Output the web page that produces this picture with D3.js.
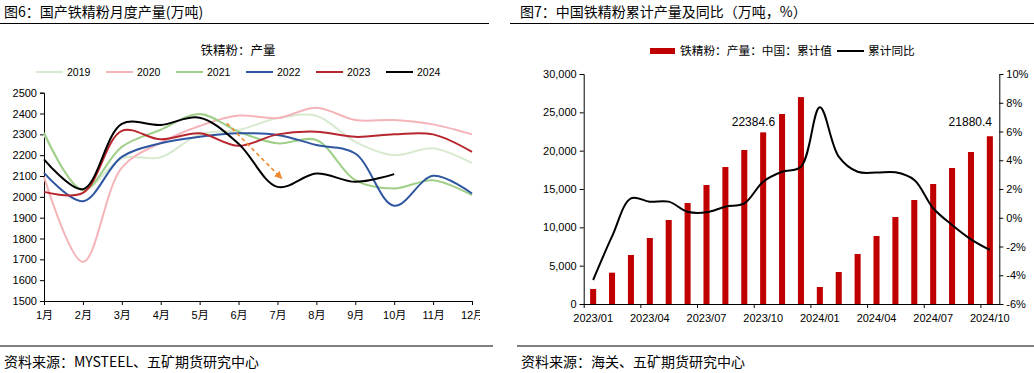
<!DOCTYPE html>
<html>
<head>
<meta charset="utf-8">
<script src="https://cdn.jsdelivr.net/npm/d3@7"></script>
<style>
  body { margin: 0; background: #fff; }
  text { font-family: "Liberation Sans", "Noto Sans CJK SC", sans-serif; fill: #000; }
  .cjk { font-family: "Noto Sans CJK SC", sans-serif; }
</style>
</head>
<body>
<div id="chart"></div>
<script>
// ---- left chart data (万吨) ----
const months = ["1月", "2月", "3月", "4月", "5月", "6月", "7月", "8月", "9月", "10月", "11月", "12月"];
const years = ["2019", "2020", "2021", "2022", "2023", "2024"];
const v2019 = [2300, 2035, 2185, 2190, 2300, 2321, 2377, 2389, 2264, 2200, 2233, 2162];
const v2020 = [2096, 1688, 2140, 2260, 2340, 2390, 2378, 2428, 2369, 2369, 2348, 2300];
const v2021 = [2308, 2032, 2240, 2322, 2398, 2313, 2257, 2273, 2080, 2040, 2080, 2008];
const v2022 = [2115, 1979, 2192, 2257, 2288, 2305, 2297, 2249, 2208, 1957, 2101, 2016];
const v2023 = [2024, 2019, 2317, 2276, 2305, 2245, 2300, 2313, 2288, 2300, 2300, 2216];
const v2024 = [2180, 2037, 2350, 2345, 2380, 2255, 2048, 2112, 2072, 2109];
const yearColors = ["#d7ead0", "#f4b4b9", "#9fcf88", "#2f56a0", "#b7262e", "#000000"];
const leftTicks = d3.range(1500, 2501, 100);
// trend arrow, in (month index, value)
const arrowFrom = [4.7, 2353];
const arrowTo = [6.11, 2088];

// ---- right chart data ----
const cats = ["2023/01", "2023/02", "2023/03", "2023/04", "2023/05", "2023/06", "2023/07", "2023/08",
  "2023/09", "2023/10", "2023/11", "2023/12", "2024/01", "2024/02", "2024/03", "2024/04",
  "2024/05", "2024/06", "2024/07", "2024/08", "2024/09", "2024/10"];
const cumValue = [1957, 4087, 6391, 8609, 10957, 13174, 15522, 17870, 20087, 22384.6, 24783, 26990,
  2217, 4174, 6522, 8870, 11348, 13565, 15652, 17739, 19826, 21880.4];
const cumYoy = [-4.33, -1.3, 1.35, 1.12, 1.12, 0.42, 0.38, 0.77, 1.0, 2.51, 3.2, 3.55,
  7.68, 4.25, 3.2, 3.14, 3.16, 2.63, 0.66, -0.5, -1.5, -2.24];
const labelIdx = [9, 21];
const barTicks = d3.range(0, 30001, 5000);
const pctTicks = d3.range(-6, 11, 2);

const svg = d3.select("#chart").append("svg")
  .attr("width", 1034).attr("height", 373);

// ---- frames: titles, rules, sources ----
svg.append("text").attr("class", "cjk").attr("x", 4).attr("y", 17)
  .style("font-size", "14px").text("图6：国产铁精粉月度产量(万吨)");
svg.append("text").attr("class", "cjk").attr("x", 520).attr("y", 17)
  .style("font-size", "14px").text("图7：中国铁精粉累计产量及同比（万吨，%）");
[[0, 489, 23.5], [510, 1034, 23.5], [0, 493, 346], [517, 1034, 346]].forEach(l => {
  svg.append("line").attr("x1", l[0]).attr("x2", l[1]).attr("y1", l[2]).attr("y2", l[2])
    .attr("stroke", "#000").attr("stroke-width", 1.2);
});
svg.append("text").attr("class", "cjk").attr("x", 4).attr("y", 367)
  .style("font-size", "14px").text("资料来源：MYSTEEL、五矿期货研究中心");
svg.append("text").attr("class", "cjk").attr("x", 521).attr("y", 367)
  .style("font-size", "14px").text("资料来源：海关、五矿期货研究中心");

// ================= left chart =================
const left = svg.append("g");
const x = d3.scalePoint().domain(months).range([44, 472]);
const y = d3.scaleLinear().domain([1500, 2500]).range([301, 92.7]);
const xi = i => x(months[0]) + i * x.step();

svg.append("defs").append("clipPath").attr("id", "leftclip")
  .append("rect").attr("x", 0).attr("y", 0).attr("width", 480).attr("height", 340);

left.append("g").attr("transform", "translate(44,0)")
  .call(d3.axisLeft(y).tickValues(leftTicks).tickSize(4).tickFormat(d3.format("d")))
  .call(g => g.selectAll("text").style("font-size", "11px"));

left.append("g").attr("transform", "translate(0,301)").attr("clip-path", "url(#leftclip)")
  .call(d3.axisBottom(x).tickSize(4).tickSizeOuter(0).tickPadding(6))
  .call(g => g.selectAll("text").style("font-size", "11px"));

left.selectAll(".domain, .tick line").attr("stroke", "#000");

const series = [v2019, v2020, v2021, v2022, v2023, v2024];
const lineL = d3.line().x((d, i) => x(months[i])).y(d => y(d)).curve(d3.curveCatmullRom.alpha(0.5));
left.selectAll(".yr").data(series).enter().append("path")
  .attr("d", lineL).attr("fill", "none")
  .attr("stroke", (d, i) => yearColors[i]).attr("stroke-width", 2);

// arrow
svg.select("defs").append("marker").attr("id", "arrowhead")
  .attr("viewBox", "0 0 10 10").attr("refX", 9).attr("refY", 5)
  .attr("markerWidth", 5).attr("markerHeight", 5).attr("orient", "auto")
  .append("path").attr("d", "M0,0L10,5L0,10z").attr("fill", "#f08a32");
left.append("line")
  .attr("x1", xi(arrowFrom[0])).attr("y1", y(arrowFrom[1]))
  .attr("x2", xi(arrowTo[0])).attr("y2", y(arrowTo[1]))
  .attr("stroke", "#f08a32").attr("stroke-width", 1.6).attr("stroke-dasharray", "4,3")
  .attr("marker-end", "url(#arrowhead)");

// legend
left.append("text").attr("class", "cjk").attr("x", 238).attr("y", 55)
  .attr("text-anchor", "middle").style("font-size", "12.5px").text("铁精粉：产量");
const lg = left.selectAll(".lg").data(years).enter().append("g")
  .attr("transform", (d, i) => `translate(${36 + i * 70},72)`);
lg.append("line").attr("x1", 0).attr("x2", 27).attr("stroke-width", 2)
  .attr("stroke", (d, i) => yearColors[i]);
lg.append("text").attr("x", 31).attr("y", 4).style("font-size", "10.5px").text(d => d);

// ================= right chart =================
const right = svg.append("g");
const xb = d3.scaleBand().domain(cats).range([583.7, 999.3]).paddingInner(0.68).paddingOuter(0.34);
const xs = d3.scaleLinear().domain([0, cats.length]).range(xb.range());
const yL = d3.scaleLinear().domain([0, 30000]).range([304, 74]);
const yR = d3.scaleLinear().domain([-6, 10]).range([304, 74]);

right.selectAll("rect").data(cumValue).enter().append("rect")
  .attr("x", (d, i) => xb(cats[i])).attr("width", xb.bandwidth())
  .attr("y", d => yL(d)).attr("height", d => yL(0) - yL(d))
  .attr("fill", "#c00000");

right.append("g").attr("transform", "translate(583.7,0)")
  .call(d3.axisLeft(yL).tickValues(barTicks).tickSize(4).tickFormat(d3.format(",")))
  .call(g => g.selectAll("text").style("font-size", "11px"));
right.append("g").attr("transform", "translate(999.3,0)")
  .call(d3.axisRight(yR).tickValues(pctTicks).tickSize(4).tickFormat(d => d + "%"))
  .call(g => g.selectAll("text").style("font-size", "11px"));
right.append("g").attr("transform", "translate(0,304)")
  .call(d3.axisBottom(xs).tickValues(d3.range(0, cats.length, 3)).tickSize(4).tickSizeOuter(0).tickFormat(""));
right.append("g").attr("transform", "translate(0,304)")
  .call(d3.axisBottom(xb).tickValues(cats.filter((d, i) => i % 3 === 0)).tickSize(0).tickPadding(10))
  .call(g => g.select(".domain").remove())
  .call(g => g.selectAll("text").style("font-size", "11px"));
right.selectAll(".domain, .tick line").attr("stroke", "#000");

const lineR = d3.line().x((d, i) => xb(cats[i]) + xb.bandwidth() / 2).y(d => yR(d))
  .curve(d3.curveCatmullRom.alpha(0.5));
right.append("path").datum(cumYoy).attr("d", lineR)
  .attr("fill", "none").attr("stroke", "#000").attr("stroke-width", 2);

right.selectAll(".vlab").data(labelIdx).enter().append("text")
  .attr("x", i => Math.min(xb(cats[i]) + xb.bandwidth() / 2 + 12, 992))
  .attr("y", 126).attr("text-anchor", "end").style("font-size", "12px")
  .text(i => cumValue[i]);

// legend
right.append("rect").attr("x", 650).attr("y", 48).attr("width", 25).attr("height", 6).attr("fill", "#c00000");
right.append("text").attr("class", "cjk").attr("x", 680).attr("y", 55).style("font-size", "11.7px")
  .text("铁精粉：产量：中国：累计值");
right.append("line").attr("x1", 837).attr("x2", 864).attr("y1", 51).attr("y2", 51)
  .attr("stroke", "#000").attr("stroke-width", 2);
right.append("text").attr("class", "cjk").attr("x", 868).attr("y", 55).style("font-size", "11.7px")
  .text("累计同比");
</script>
</body>
</html>
